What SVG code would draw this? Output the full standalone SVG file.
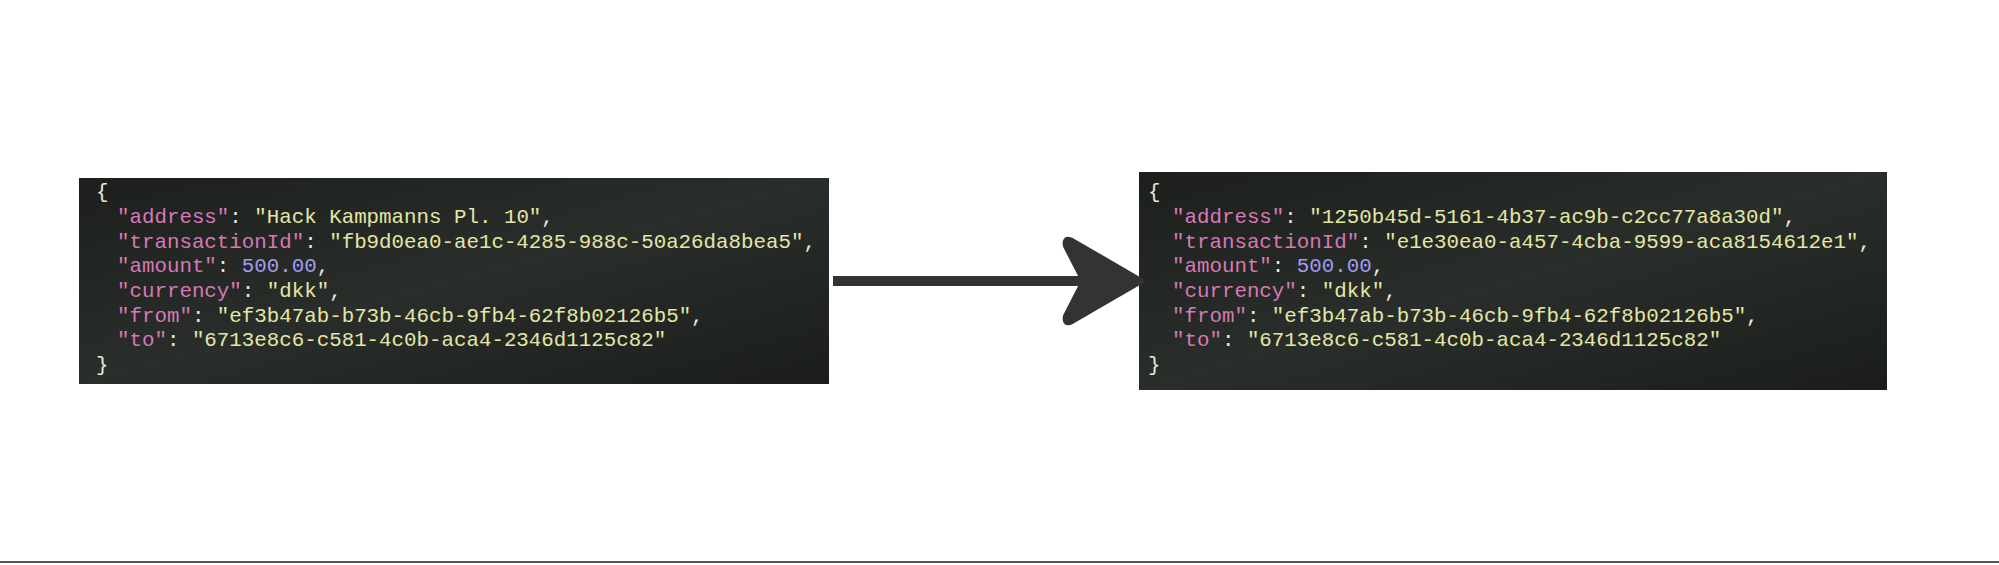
<svg xmlns="http://www.w3.org/2000/svg" width="1999" height="565" viewBox="0 0 1999 565">
<style>
text{font-family:"Liberation Mono","DejaVu Sans Mono",monospace;font-size:20.8px;fill:#e8e8e0;white-space:pre}
.k{fill:#d878b8}.s{fill:#e4e6a6}.n{fill:#a49cf0}
.box{fill:url(#bg)}
</style>
<defs>
<linearGradient id="bg" x1="0" y1="0" x2="1" y2="1">
<stop offset="0" stop-color="#1c1f1c"/><stop offset="0.5" stop-color="#2a2e2a"/><stop offset="1" stop-color="#1a1d1a"/>
</linearGradient>
</defs>
<rect width="1999" height="565" fill="#ffffff"/>
<line x1="0" y1="562" x2="1999" y2="562" stroke="#555" stroke-width="2"/>
<g id="left">
<rect class="box" x="79" y="178" width="750" height="206"/>
<text x="96" y="198">{</text>
<text x="117" y="223"><tspan class="k">"address"</tspan>: <tspan class="s">"Hack Kampmanns Pl. 10"</tspan>,</text>
<text x="117" y="248"><tspan class="k">"transactionId"</tspan>: <tspan class="s">"fb9d0ea0-ae1c-4285-988c-50a26da8bea5"</tspan>,</text>
<text x="117" y="272"><tspan class="k">"amount"</tspan>: <tspan class="n">500.00</tspan>,</text>
<text x="117" y="297"><tspan class="k">"currency"</tspan>: <tspan class="s">"dkk"</tspan>,</text>
<text x="117" y="322"><tspan class="k">"from"</tspan>: <tspan class="s">"ef3b47ab-b73b-46cb-9fb4-62f8b02126b5"</tspan>,</text>
<text x="117" y="346"><tspan class="k">"to"</tspan>: <tspan class="s">"6713e8c6-c581-4c0b-aca4-2346d1125c82"</tspan></text>
<text x="96" y="371">}</text>
</g>
<g id="right">
<rect class="box" x="1139" y="172" width="748" height="218"/>
<text x="1148" y="198">{</text>
<text x="1172" y="223"><tspan class="k">"address"</tspan>: <tspan class="s">"1250b45d-5161-4b37-ac9b-c2cc77a8a30d"</tspan>,</text>
<text x="1172" y="248"><tspan class="k">"transactionId"</tspan>: <tspan class="s">"e1e30ea0-a457-4cba-9599-aca8154612e1"</tspan>,</text>
<text x="1172" y="272"><tspan class="k">"amount"</tspan>: <tspan class="n">500.00</tspan>,</text>
<text x="1172" y="297"><tspan class="k">"currency"</tspan>: <tspan class="s">"dkk"</tspan>,</text>
<text x="1172" y="322"><tspan class="k">"from"</tspan>: <tspan class="s">"ef3b47ab-b73b-46cb-9fb4-62f8b02126b5"</tspan>,</text>
<text x="1172" y="346"><tspan class="k">"to"</tspan>: <tspan class="s">"6713e8c6-c581-4c0b-aca4-2346d1125c82"</tspan></text>
<text x="1148" y="371">}</text>
</g>
<g id="connectors">
<line x1="833" y1="281" x2="1090" y2="281" stroke="#333" stroke-width="10"/>
<path d="M1141 281 L1072 241 Q1064 237 1066 246 L1084 281 L1066 316 Q1064 325 1072 321 Z" fill="#333" stroke="#333" stroke-width="6" stroke-linejoin="round"/>
</g>
</svg>
